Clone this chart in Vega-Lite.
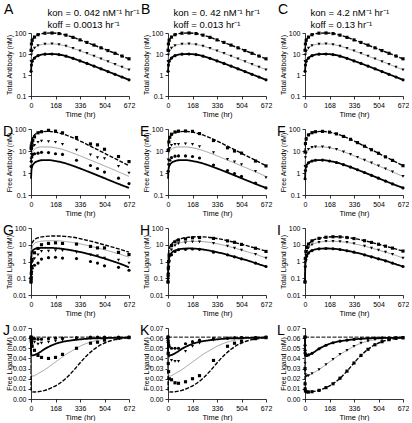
{
"$schema":"https://vega.github.io/schema/vega-lite/v6.json",
"padding":{"left":2,"top":3,"right":0,"bottom":0},
"background":"#ffffff",
"datasets":{
"totAb":[
{"s":"h","t":0.5,"v":15},{"s":"h","t":3,"v":30},{"s":"h","t":8,"v":45},{"s":"h","t":24,"v":64},{"s":"h","t":48,"v":83},{"s":"h","t":96,"v":98},{"s":"h","t":144,"v":100},{"s":"h","t":192,"v":94},{"s":"h","t":240,"v":79},{"s":"h","t":288,"v":62},{"s":"h","t":336,"v":47},{"s":"h","t":384,"v":35.5},{"s":"h","t":432,"v":26.5},{"s":"h","t":480,"v":19.7},{"s":"h","t":528,"v":14.6},{"s":"h","t":576,"v":10.8},{"s":"h","t":624,"v":8},{"s":"h","t":672,"v":5.9},
{"s":"m","t":0.5,"v":4.5},{"s":"m","t":3,"v":9},{"s":"m","t":8,"v":13.5},{"s":"m","t":24,"v":19.2},{"s":"m","t":48,"v":24.9},{"s":"m","t":96,"v":29.4},{"s":"m","t":144,"v":30},{"s":"m","t":192,"v":28.2},{"s":"m","t":240,"v":23.7},{"s":"m","t":288,"v":18.6},{"s":"m","t":336,"v":14.1},{"s":"m","t":384,"v":10.65},{"s":"m","t":432,"v":7.95},{"s":"m","t":480,"v":5.91},{"s":"m","t":528,"v":4.38},{"s":"m","t":576,"v":3.24},{"s":"m","t":624,"v":2.4},{"s":"m","t":672,"v":1.77},
{"s":"l","t":0.5,"v":1.5},{"s":"l","t":3,"v":3},{"s":"l","t":8,"v":4.5},{"s":"l","t":24,"v":6.4},{"s":"l","t":48,"v":8.3},{"s":"l","t":96,"v":9.8},{"s":"l","t":144,"v":10},{"s":"l","t":192,"v":9.4},{"s":"l","t":240,"v":7.9},{"s":"l","t":288,"v":6.2},{"s":"l","t":336,"v":4.7},{"s":"l","t":384,"v":3.55},{"s":"l","t":432,"v":2.65},{"s":"l","t":480,"v":1.97},{"s":"l","t":528,"v":1.46},{"s":"l","t":576,"v":1.08},{"s":"l","t":624,"v":0.8},{"s":"l","t":672,"v":0.59}
],
"freeAbFit":[
{"s":"h","t":0.5,"v":9},{"s":"h","t":3,"v":22},{"s":"h","t":8,"v":35},{"s":"h","t":24,"v":54},{"s":"h","t":48,"v":68},{"s":"h","t":72,"v":75},{"s":"h","t":120,"v":78},{"s":"h","t":168,"v":72},{"s":"h","t":216,"v":60},{"s":"h","t":264,"v":46},{"s":"h","t":312,"v":34},{"s":"h","t":360,"v":24},{"s":"h","t":408,"v":16.5},{"s":"h","t":456,"v":11.4},{"s":"h","t":504,"v":7.9},{"s":"h","t":552,"v":5.4},{"s":"h","t":600,"v":3.75},{"s":"h","t":672,"v":2.15},
{"s":"m","t":0.5,"v":2},{"s":"m","t":3,"v":5},{"s":"m","t":8,"v":8},{"s":"m","t":24,"v":12},{"s":"m","t":48,"v":14.5},{"s":"m","t":72,"v":15.3},{"s":"m","t":120,"v":15.3},{"s":"m","t":168,"v":14},{"s":"m","t":216,"v":11.8},{"s":"m","t":264,"v":9.2},{"s":"m","t":312,"v":7},{"s":"m","t":360,"v":5.2},{"s":"m","t":408,"v":3.85},{"s":"m","t":456,"v":2.85},{"s":"m","t":504,"v":2.1},{"s":"m","t":552,"v":1.55},{"s":"m","t":600,"v":1.13},{"s":"m","t":672,"v":0.7},
{"s":"l","t":0.5,"v":0.55},{"s":"l","t":3,"v":1.3},{"s":"l","t":8,"v":2},{"s":"l","t":24,"v":2.9},{"s":"l","t":48,"v":3.5},{"s":"l","t":72,"v":3.8},{"s":"l","t":120,"v":3.85},{"s":"l","t":168,"v":3.5},{"s":"l","t":216,"v":3},{"s":"l","t":264,"v":2.4},{"s":"l","t":312,"v":1.85},{"s":"l","t":360,"v":1.4},{"s":"l","t":408,"v":1.05},{"s":"l","t":456,"v":0.78},{"s":"l","t":504,"v":0.58},{"s":"l","t":552,"v":0.43},{"s":"l","t":600,"v":0.32},{"s":"l","t":672,"v":0.21}
],
"freeAbD":[
{"s":"h","t":1,"v":13},{"s":"h","t":2,"v":17},{"s":"h","t":6,"v":23},{"s":"h","t":12,"v":30},{"s":"h","t":24,"v":44},{"s":"h","t":48,"v":67},{"s":"h","t":72,"v":75},{"s":"h","t":120,"v":87},{"s":"h","t":168,"v":80},{"s":"h","t":216,"v":67},{"s":"h","t":312,"v":41},{"s":"h","t":408,"v":21},{"s":"h","t":456,"v":19},{"s":"h","t":504,"v":12},{"s":"h","t":600,"v":5.6},{"s":"h","t":672,"v":3.3},
{"s":"m","t":1,"v":4.3},{"s":"m","t":2,"v":7},{"s":"m","t":6,"v":12},{"s":"m","t":12,"v":16},{"s":"m","t":24,"v":18},{"s":"m","t":48,"v":25},{"s":"m","t":72,"v":28},{"s":"m","t":120,"v":27},{"s":"m","t":168,"v":25},{"s":"m","t":216,"v":20},{"s":"m","t":312,"v":11},{"s":"m","t":408,"v":6.7},{"s":"m","t":456,"v":5},{"s":"m","t":504,"v":4.5},{"s":"m","t":600,"v":2},{"s":"m","t":672,"v":1},
{"s":"l","t":1,"v":2},{"s":"l","t":2,"v":3.4},{"s":"l","t":6,"v":5.4},{"s":"l","t":12,"v":7},{"s":"l","t":24,"v":7.5},{"s":"l","t":48,"v":8},{"s":"l","t":72,"v":8.7},{"s":"l","t":120,"v":8.5},{"s":"l","t":168,"v":7.5},{"s":"l","t":216,"v":7},{"s":"l","t":312,"v":3.8},{"s":"l","t":408,"v":2.2},{"s":"l","t":456,"v":1.6},{"s":"l","t":504,"v":1.1},{"s":"l","t":600,"v":0.58},{"s":"l","t":672,"v":0.33}
],
"freeAbE":[
{"s":"h","t":1,"v":10.7},{"s":"h","t":6,"v":26},{"s":"h","t":12,"v":42},{"s":"h","t":24,"v":58},{"s":"h","t":48,"v":73},{"s":"h","t":72,"v":80},{"s":"h","t":120,"v":81},{"s":"h","t":168,"v":78},{"s":"h","t":216,"v":62},{"s":"h","t":312,"v":30},{"s":"h","t":408,"v":14},{"s":"h","t":456,"v":10},{"s":"h","t":504,"v":8},{"s":"h","t":600,"v":3.5},{"s":"h","t":672,"v":2.1},
{"s":"m","t":1,"v":4},{"s":"m","t":6,"v":11},{"s":"m","t":12,"v":13},{"s":"m","t":24,"v":18},{"s":"m","t":48,"v":20},{"s":"m","t":72,"v":20},{"s":"m","t":120,"v":21},{"s":"m","t":168,"v":20},{"s":"m","t":216,"v":16},{"s":"m","t":312,"v":8.5},{"s":"m","t":408,"v":4.2},{"s":"m","t":456,"v":3.2},{"s":"m","t":504,"v":2.4},{"s":"m","t":600,"v":1.2},{"s":"m","t":672,"v":0.62},
{"s":"l","t":1,"v":1.2},{"s":"l","t":6,"v":2.5},{"s":"l","t":12,"v":3.8},{"s":"l","t":24,"v":5},{"s":"l","t":48,"v":5.8},{"s":"l","t":72,"v":6},{"s":"l","t":120,"v":6},{"s":"l","t":168,"v":5.6},{"s":"l","t":216,"v":4.8},{"s":"l","t":312,"v":2.3},{"s":"l","t":408,"v":1.3},{"s":"l","t":456,"v":0.95},{"s":"l","t":504,"v":0.7},{"s":"l","t":600,"v":0.35},{"s":"l","t":672,"v":0.21}
],
"totLigFitG":[
{"s":"h","t":0,"v":0.06},{"s":"h","t":1,"v":2},{"s":"h","t":3,"v":6},{"s":"h","t":6,"v":10},{"s":"h","t":12,"v":15},{"s":"h","t":24,"v":20},{"s":"h","t":48,"v":26},{"s":"h","t":96,"v":31},{"s":"h","t":144,"v":33},{"s":"h","t":192,"v":33},{"s":"h","t":240,"v":31},{"s":"h","t":288,"v":28},{"s":"h","t":336,"v":23},{"s":"h","t":408,"v":16.5},{"s":"h","t":456,"v":12.8},{"s":"h","t":504,"v":9.8},{"s":"h","t":552,"v":7.5},{"s":"h","t":600,"v":5.7},{"s":"h","t":672,"v":3.6},
{"s":"m","t":0,"v":0.06},{"s":"m","t":1,"v":1.2},{"s":"m","t":3,"v":3.5},{"s":"m","t":6,"v":6},{"s":"m","t":12,"v":9},{"s":"m","t":24,"v":12},{"s":"m","t":48,"v":15},{"s":"m","t":96,"v":17},{"s":"m","t":144,"v":17.5},{"s":"m","t":192,"v":17},{"s":"m","t":240,"v":15.5},{"s":"m","t":288,"v":13.5},{"s":"m","t":336,"v":11.3},{"s":"m","t":408,"v":8.2},{"s":"m","t":456,"v":6.4},{"s":"m","t":504,"v":5},{"s":"m","t":552,"v":3.8},{"s":"m","t":600,"v":2.9},{"s":"m","t":672,"v":1.8},
{"s":"l","t":0,"v":0.06},{"s":"l","t":1,"v":0.8},{"s":"l","t":3,"v":2},{"s":"l","t":6,"v":3.3},{"s":"l","t":12,"v":4.5},{"s":"l","t":24,"v":5.5},{"s":"l","t":48,"v":6.2},{"s":"l","t":96,"v":6.6},{"s":"l","t":144,"v":6.5},{"s":"l","t":192,"v":6},{"s":"l","t":240,"v":5.3},{"s":"l","t":288,"v":4.5},{"s":"l","t":336,"v":3.7},{"s":"l","t":408,"v":2.6},{"s":"l","t":456,"v":2},{"s":"l","t":504,"v":1.5},{"s":"l","t":552,"v":1.1},{"s":"l","t":600,"v":0.8},{"s":"l","t":672,"v":0.45}
],
"totLigG":[
{"s":"h","t":0,"v":0.06},{"s":"h","t":1,"v":0.1},{"s":"h","t":2,"v":0.2},{"s":"h","t":4,"v":0.5},{"s":"h","t":8,"v":1.3},{"s":"h","t":24,"v":3.3},{"s":"h","t":48,"v":6},{"s":"h","t":72,"v":10},{"s":"h","t":120,"v":12},{"s":"h","t":168,"v":13},{"s":"h","t":216,"v":12},{"s":"h","t":312,"v":11},{"s":"h","t":408,"v":8},{"s":"h","t":456,"v":6.5},{"s":"h","t":504,"v":6.5},{"s":"h","t":600,"v":3.5},{"s":"h","t":672,"v":2.6},
{"s":"m","t":0,"v":0.06},{"s":"m","t":1,"v":0.1},{"s":"m","t":2,"v":0.15},{"s":"m","t":4,"v":0.4},{"s":"m","t":8,"v":0.9},{"s":"m","t":24,"v":1.5},{"s":"m","t":48,"v":2.5},{"s":"m","t":72,"v":4},{"s":"m","t":120,"v":4.2},{"s":"m","t":168,"v":4.5},{"s":"m","t":216,"v":4.5},{"s":"m","t":312,"v":3.5},{"s":"m","t":408,"v":2.5},{"s":"m","t":456,"v":2.2},{"s":"m","t":504,"v":1.6},{"s":"m","t":600,"v":1.2},{"s":"m","t":672,"v":0.8},
{"s":"l","t":0,"v":0.06},{"s":"l","t":1,"v":0.08},{"s":"l","t":2,"v":0.12},{"s":"l","t":4,"v":0.25},{"s":"l","t":8,"v":0.4},{"s":"l","t":24,"v":0.6},{"s":"l","t":48,"v":0.8},{"s":"l","t":72,"v":1.4},{"s":"l","t":120,"v":1.7},{"s":"l","t":168,"v":1.8},{"s":"l","t":216,"v":1.6},{"s":"l","t":312,"v":1.5},{"s":"l","t":408,"v":1},{"s":"l","t":456,"v":0.8},{"s":"l","t":504,"v":0.55},{"s":"l","t":600,"v":0.45},{"s":"l","t":672,"v":0.3}
],
"totLigFit":[
{"s":"h","t":0,"v":0.06},{"s":"h","t":2,"v":1.5},{"s":"h","t":6,"v":4},{"s":"h","t":12,"v":7},{"s":"h","t":24,"v":11},{"s":"h","t":48,"v":17},{"s":"h","t":96,"v":24},{"s":"h","t":144,"v":28},{"s":"h","t":192,"v":30},{"s":"h","t":240,"v":29.5},{"s":"h","t":288,"v":27},{"s":"h","t":336,"v":23.5},{"s":"h","t":408,"v":17.5},{"s":"h","t":456,"v":13.8},{"s":"h","t":504,"v":10.7},{"s":"h","t":552,"v":8.2},{"s":"h","t":600,"v":6.3},{"s":"h","t":672,"v":4.2},
{"s":"m","t":0,"v":0.06},{"s":"m","t":2,"v":0.9},{"s":"m","t":6,"v":2.4},{"s":"m","t":12,"v":4},{"s":"m","t":24,"v":6.5},{"s":"m","t":48,"v":10},{"s":"m","t":96,"v":14},{"s":"m","t":144,"v":15.8},{"s":"m","t":192,"v":16},{"s":"m","t":240,"v":15.3},{"s":"m","t":288,"v":13.8},{"s":"m","t":336,"v":11.5},{"s":"m","t":408,"v":8.2},{"s":"m","t":456,"v":6.3},{"s":"m","t":504,"v":4.8},{"s":"m","t":552,"v":3.6},{"s":"m","t":600,"v":2.7},{"s":"m","t":672,"v":1.6},
{"s":"l","t":0,"v":0.06},{"s":"l","t":2,"v":0.5},{"s":"l","t":6,"v":1.3},{"s":"l","t":12,"v":2.1},{"s":"l","t":24,"v":3.2},{"s":"l","t":48,"v":4.5},{"s":"l","t":96,"v":5.7},{"s":"l","t":144,"v":6},{"s":"l","t":192,"v":5.8},{"s":"l","t":240,"v":5.2},{"s":"l","t":288,"v":4.4},{"s":"l","t":336,"v":3.6},{"s":"l","t":408,"v":2.5},{"s":"l","t":456,"v":1.9},{"s":"l","t":504,"v":1.45},{"s":"l","t":552,"v":1.1},{"s":"l","t":600,"v":0.8},{"s":"l","t":672,"v":0.5}
],
"totLigH":[
{"s":"h","t":0,"v":0.06},{"s":"h","t":1,"v":0.15},{"s":"h","t":2,"v":0.4},{"s":"h","t":4,"v":1},{"s":"h","t":8,"v":2.5},{"s":"h","t":24,"v":9},{"s":"h","t":48,"v":15},{"s":"h","t":72,"v":19},{"s":"h","t":120,"v":22},{"s":"h","t":168,"v":26},{"s":"h","t":216,"v":27},{"s":"h","t":312,"v":24},{"s":"h","t":408,"v":17},{"s":"h","t":456,"v":14},{"s":"h","t":504,"v":10.5},{"s":"h","t":600,"v":6.2},{"s":"h","t":672,"v":4},
{"s":"m","t":0,"v":0.06},{"s":"m","t":1,"v":0.12},{"s":"m","t":2,"v":0.3},{"s":"m","t":4,"v":0.8},{"s":"m","t":8,"v":1.8},{"s":"m","t":24,"v":5},{"s":"m","t":48,"v":9},{"s":"m","t":72,"v":11.5},{"s":"m","t":120,"v":13},{"s":"m","t":168,"v":15},{"s":"m","t":216,"v":15},{"s":"m","t":312,"v":12},{"s":"m","t":408,"v":8.3},{"s":"m","t":456,"v":6.3},{"s":"m","t":504,"v":4.8},{"s":"m","t":600,"v":2.7},{"s":"m","t":672,"v":1.6},
{"s":"l","t":0,"v":0.06},{"s":"l","t":1,"v":0.1},{"s":"l","t":2,"v":0.2},{"s":"l","t":4,"v":0.5},{"s":"l","t":8,"v":1.1},{"s":"l","t":24,"v":2.5},{"s":"l","t":48,"v":4},{"s":"l","t":72,"v":5},{"s":"l","t":120,"v":5.3},{"s":"l","t":168,"v":5.6},{"s":"l","t":216,"v":5.3},{"s":"l","t":312,"v":3.6},{"s":"l","t":408,"v":2.5},{"s":"l","t":456,"v":1.9},{"s":"l","t":504,"v":1.45},{"s":"l","t":600,"v":0.8},{"s":"l","t":672,"v":0.5}
],
"freeLigFit":[
{"s":"b","t":0,"v":0.061},{"s":"b","t":672,"v":0.061},
{"s":"h","t":0,"v":0.061},{"s":"h","t":0.25,"v":0.03},{"s":"h","t":0.5,"v":0.015},{"s":"h","t":1,"v":0.01},{"s":"h","t":3,"v":0.0078},{"s":"h","t":12,"v":0.007},{"s":"h","t":24,"v":0.0069},{"s":"h","t":48,"v":0.0072},{"s":"h","t":96,"v":0.0085},{"s":"h","t":144,"v":0.0112},{"s":"h","t":192,"v":0.015},{"s":"h","t":240,"v":0.0205},{"s":"h","t":288,"v":0.0275},{"s":"h","t":336,"v":0.0355},{"s":"h","t":384,"v":0.043},{"s":"h","t":432,"v":0.049},{"s":"h","t":480,"v":0.0535},{"s":"h","t":528,"v":0.0565},{"s":"h","t":576,"v":0.0585},{"s":"h","t":624,"v":0.0597},{"s":"h","t":672,"v":0.0603},
{"s":"m","t":0,"v":0.061},{"s":"m","t":0.25,"v":0.045},{"s":"m","t":0.5,"v":0.035},{"s":"m","t":1,"v":0.028},{"s":"m","t":3,"v":0.024},{"s":"m","t":12,"v":0.0225},{"s":"m","t":24,"v":0.023},{"s":"m","t":48,"v":0.025},{"s":"m","t":96,"v":0.029},{"s":"m","t":144,"v":0.034},{"s":"m","t":192,"v":0.039},{"s":"m","t":240,"v":0.044},{"s":"m","t":288,"v":0.048},{"s":"m","t":336,"v":0.052},{"s":"m","t":384,"v":0.055},{"s":"m","t":432,"v":0.057},{"s":"m","t":480,"v":0.0585},{"s":"m","t":528,"v":0.0594},{"s":"m","t":576,"v":0.0599},{"s":"m","t":624,"v":0.0602},{"s":"m","t":672,"v":0.0604},
{"s":"l","t":0,"v":0.061},{"s":"l","t":0.25,"v":0.053},{"s":"l","t":0.5,"v":0.048},{"s":"l","t":1,"v":0.045},{"s":"l","t":3,"v":0.0435},{"s":"l","t":12,"v":0.043},{"s":"l","t":24,"v":0.0435},{"s":"l","t":48,"v":0.045},{"s":"l","t":96,"v":0.0495},{"s":"l","t":144,"v":0.053},{"s":"l","t":192,"v":0.0555},{"s":"l","t":240,"v":0.057},{"s":"l","t":288,"v":0.058},{"s":"l","t":336,"v":0.0588},{"s":"l","t":384,"v":0.0594},{"s":"l","t":432,"v":0.0598},{"s":"l","t":480,"v":0.06},{"s":"l","t":528,"v":0.0602},{"s":"l","t":576,"v":0.0603},{"s":"l","t":624,"v":0.0604},{"s":"l","t":672,"v":0.0605}
],
"freeLigJ":[
{"s":"h","t":0,"v":0.061},{"s":"h","t":1,"v":0.059},{"s":"h","t":2,"v":0.057},{"s":"h","t":4,"v":0.055},{"s":"h","t":8,"v":0.052},{"s":"h","t":24,"v":0.048},{"s":"h","t":48,"v":0.043},{"s":"h","t":72,"v":0.041},{"s":"h","t":120,"v":0.04},{"s":"h","t":168,"v":0.041},{"s":"h","t":216,"v":0.044},{"s":"h","t":312,"v":0.05},{"s":"h","t":408,"v":0.055},{"s":"h","t":456,"v":0.056},{"s":"h","t":504,"v":0.058},{"s":"h","t":600,"v":0.06},{"s":"h","t":672,"v":0.0605},
{"s":"m","t":0,"v":0.061},{"s":"m","t":1,"v":0.06},{"s":"m","t":2,"v":0.059},{"s":"m","t":4,"v":0.058},{"s":"m","t":8,"v":0.057},{"s":"m","t":24,"v":0.056},{"s":"m","t":48,"v":0.054},{"s":"m","t":72,"v":0.055},{"s":"m","t":120,"v":0.056},{"s":"m","t":168,"v":0.057},{"s":"m","t":216,"v":0.058},{"s":"m","t":312,"v":0.059},{"s":"m","t":408,"v":0.06},{"s":"m","t":456,"v":0.06},{"s":"m","t":504,"v":0.0605},{"s":"m","t":600,"v":0.0605},{"s":"m","t":672,"v":0.061},
{"s":"l","t":0,"v":0.061},{"s":"l","t":1,"v":0.0605},{"s":"l","t":2,"v":0.06},{"s":"l","t":4,"v":0.06},{"s":"l","t":8,"v":0.0598},{"s":"l","t":24,"v":0.0595},{"s":"l","t":48,"v":0.059},{"s":"l","t":72,"v":0.059},{"s":"l","t":120,"v":0.0595},{"s":"l","t":168,"v":0.06},{"s":"l","t":216,"v":0.06},{"s":"l","t":312,"v":0.0605},{"s":"l","t":408,"v":0.061},{"s":"l","t":456,"v":0.061},{"s":"l","t":504,"v":0.061},{"s":"l","t":600,"v":0.061},{"s":"l","t":672,"v":0.061}
],
"freeLigK":[
{"s":"h","t":0,"v":0.061},{"s":"h","t":1,"v":0.045},{"s":"h","t":2,"v":0.035},{"s":"h","t":4,"v":0.027},{"s":"h","t":8,"v":0.02},{"s":"h","t":24,"v":0.019},{"s":"h","t":48,"v":0.016},{"s":"h","t":72,"v":0.0155},{"s":"h","t":120,"v":0.017},{"s":"h","t":168,"v":0.02},{"s":"h","t":216,"v":0.023},{"s":"h","t":312,"v":0.038},{"s":"h","t":408,"v":0.052},{"s":"h","t":456,"v":0.055},{"s":"h","t":504,"v":0.057},{"s":"h","t":600,"v":0.0595},{"s":"h","t":672,"v":0.0605},
{"s":"m","t":0,"v":0.061},{"s":"m","t":1,"v":0.055},{"s":"m","t":2,"v":0.05},{"s":"m","t":4,"v":0.045},{"s":"m","t":8,"v":0.042},{"s":"m","t":24,"v":0.038},{"s":"m","t":48,"v":0.037},{"s":"m","t":72,"v":0.037},{"s":"m","t":120,"v":0.047},{"s":"m","t":168,"v":0.052},{"s":"m","t":216,"v":0.055},{"s":"m","t":312,"v":0.058},{"s":"m","t":408,"v":0.0595},{"s":"m","t":456,"v":0.06},{"s":"m","t":504,"v":0.0603},{"s":"m","t":600,"v":0.0605},{"s":"m","t":672,"v":0.061},
{"s":"l","t":0,"v":0.061},{"s":"l","t":1,"v":0.058},{"s":"l","t":2,"v":0.056},{"s":"l","t":4,"v":0.054},{"s":"l","t":8,"v":0.052},{"s":"l","t":24,"v":0.05},{"s":"l","t":48,"v":0.05},{"s":"l","t":72,"v":0.05},{"s":"l","t":120,"v":0.0545},{"s":"l","t":168,"v":0.0565},{"s":"l","t":216,"v":0.058},{"s":"l","t":312,"v":0.0595},{"s":"l","t":408,"v":0.06},{"s":"l","t":456,"v":0.0603},{"s":"l","t":504,"v":0.0605},{"s":"l","t":600,"v":0.0605},{"s":"l","t":672,"v":0.061}
]
},
"config":{
"font":"Liberation Sans",
"view":{"stroke":null},
"legend":{"disable":true},
"axis":{"grid":false,"domainColor":"#000","tickColor":"#000","tickSize":3,"domainWidth":0.8,"tickWidth":0.8,"labelFontSize":7,"titleFontSize":7.5,"titleFontWeight":"normal","labelColor":"#000","titleColor":"#000","labelPadding":2,"titlePadding":2,"labelOverlap":false},
"axisX":{"labelFlush":false},
"axisY":{"minExtent":17,"maxExtent":17,"titlePadding":2,"titleFontSize":7},
"title":{"anchor":"start","frame":"bounds","fontSize":14,"fontWeight":"normal","color":"#000","offset":0},
"line":{"interpolate":"monotone"},
"point":{"filled":true,"color":"#000","opacity":1,"size":10}
},
"concat":[
{"title":{"text":"A","dy":14,"dx":-1},"width":98,"height":63,"resolve":{"axis":{"x":"independent"}},
"encoding":{"x":{"field":"t","type":"quantitative","scale":{"domain":[0,672],"nice":false,"zero":false},"axis":{"values":[0,168,336,504,672],"title":"Time (hr)"}},"y":{"field":"v","type":"quantitative","scale":{"type":"log","domain":[0.1,100],"nice":false},"axis":{"values":[0.1,1,10,100],"format":"~g","title":"Total Antibody (nM)"}}},
"layer":[
{"data":{"name":"totAb"},"mark":{"type":"line"},"encoding":{"detail":{"field":"s"},"color":{"condition":{"test":"datum.s==='m'","value":"#8a8a8a"},"value":"#000"},"strokeDash":{"condition":{"test":"datum.s==='h'||datum.s==='b'","value":[4,1.5]},"value":[1,0]},"strokeWidth":{"condition":[{"test":"datum.s==='m'","value":0.8},{"test":"datum.s==='l'","value":1.8},{"test":"datum.s==='b'","value":1}],"value":1.4}}},
{"data":{"name":"totAb"},"mark":{"type":"point"},"encoding":{"x":{"field":"t","type":"quantitative","scale":{"domain":[0,672],"nice":false,"zero":false},"axis":{"orient":"top","labels":false,"ticks":false,"domain":false,"title":["kon = 0. 042 nM\u207b\u00b9 hr\u207b\u00b9","koff = 0.0013 hr\u207b\u00b9"],"titleFontSize":9.5,"titleAlign":"left","titleBaseline":"top","titleX":16,"titleY":-26,"titleLineHeight":12}},"shape":{"field":"s","type":"nominal","scale":{"domain":["h","m","l"],"range":["square","triangle-down","circle"]}}}}
]},
{"title":{"text":"B","dy":14,"dx":-1},"width":98,"height":63,"resolve":{"axis":{"x":"independent"}},
"encoding":{"x":{"field":"t","type":"quantitative","scale":{"domain":[0,672],"nice":false,"zero":false},"axis":{"values":[0,168,336,504,672],"title":"Time (hr)"}},"y":{"field":"v","type":"quantitative","scale":{"type":"log","domain":[0.1,100],"nice":false},"axis":{"values":[0.1,1,10,100],"format":"~g","title":"Total Antibody (nM)"}}},
"layer":[
{"data":{"name":"totAb"},"mark":{"type":"line"},"encoding":{"detail":{"field":"s"},"color":{"condition":{"test":"datum.s==='m'","value":"#8a8a8a"},"value":"#000"},"strokeDash":{"condition":{"test":"datum.s==='h'||datum.s==='b'","value":[4,1.5]},"value":[1,0]},"strokeWidth":{"condition":[{"test":"datum.s==='m'","value":0.8},{"test":"datum.s==='l'","value":1.8},{"test":"datum.s==='b'","value":1}],"value":1.4}}},
{"data":{"name":"totAb"},"mark":{"type":"point"},"encoding":{"x":{"field":"t","type":"quantitative","scale":{"domain":[0,672],"nice":false,"zero":false},"axis":{"orient":"top","labels":false,"ticks":false,"domain":false,"title":["kon = 0. 42 nM\u207b\u00b9 hr\u207b\u00b9","koff = 0.013 hr\u207b\u00b9"],"titleFontSize":9.5,"titleAlign":"left","titleBaseline":"top","titleX":5,"titleY":-26,"titleLineHeight":12}},"shape":{"field":"s","type":"nominal","scale":{"domain":["h","m","l"],"range":["square","triangle-down","circle"]}}}}
]},
{"title":{"text":"C","dy":14,"dx":-1},"width":98,"height":63,"resolve":{"axis":{"x":"independent"}},
"encoding":{"x":{"field":"t","type":"quantitative","scale":{"domain":[0,672],"nice":false,"zero":false},"axis":{"values":[0,168,336,504,672],"title":"Time (hr)"}},"y":{"field":"v","type":"quantitative","scale":{"type":"log","domain":[0.1,100],"nice":false},"axis":{"values":[0.1,1,10,100],"format":"~g","title":"Total Antibody (nM)"}}},
"layer":[
{"data":{"name":"totAb"},"mark":{"type":"line"},"encoding":{"detail":{"field":"s"},"color":{"condition":{"test":"datum.s==='m'","value":"#8a8a8a"},"value":"#000"},"strokeDash":{"condition":{"test":"datum.s==='h'||datum.s==='b'","value":[4,1.5]},"value":[1,0]},"strokeWidth":{"condition":[{"test":"datum.s==='m'","value":0.8},{"test":"datum.s==='l'","value":1.8},{"test":"datum.s==='b'","value":1}],"value":1.4}}},
{"data":{"name":"totAb"},"mark":{"type":"point"},"encoding":{"x":{"field":"t","type":"quantitative","scale":{"domain":[0,672],"nice":false,"zero":false},"axis":{"orient":"top","labels":false,"ticks":false,"domain":false,"title":["kon = 4.2 nM\u207b\u00b9 hr\u207b\u00b9","koff = 0.13 hr\u207b\u00b9"],"titleFontSize":9.5,"titleAlign":"left","titleBaseline":"top","titleX":5,"titleY":-26,"titleLineHeight":12}},"shape":{"field":"s","type":"nominal","scale":{"domain":["h","m","l"],"range":["square","triangle-down","circle"]}}}}
]},
{"title":{"text":"D","dy":18,"dx":-2},"width":98,"height":66,
"encoding":{"x":{"field":"t","type":"quantitative","scale":{"domain":[0,672],"nice":false,"zero":false},"axis":{"values":[0,168,336,504,672],"title":"Time (hr)"}},"y":{"field":"v","type":"quantitative","scale":{"type":"log","domain":[0.1,100],"nice":false},"axis":{"values":[0.1,1,10,100],"format":"~g","title":"Free Antibody (nM)"}}},
"layer":[
{"data":{"name":"freeAbFit"},"mark":{"type":"line"},"encoding":{"detail":{"field":"s"},"color":{"condition":{"test":"datum.s==='m'","value":"#8a8a8a"},"value":"#000"},"strokeDash":{"condition":{"test":"datum.s==='h'||datum.s==='b'","value":[4,1.5]},"value":[1,0]},"strokeWidth":{"condition":[{"test":"datum.s==='m'","value":0.8},{"test":"datum.s==='l'","value":1.8},{"test":"datum.s==='b'","value":1}],"value":1.4}}},
{"data":{"name":"freeAbD"},"mark":{"type":"point"},"encoding":{"shape":{"field":"s","type":"nominal","scale":{"domain":["h","m","l"],"range":["square","triangle-down","circle"]}}}}
]},
{"title":{"text":"E","dy":18,"dx":-2},"width":98,"height":66,
"encoding":{"x":{"field":"t","type":"quantitative","scale":{"domain":[0,672],"nice":false,"zero":false},"axis":{"values":[0,168,336,504,672],"title":"Time (hr)"}},"y":{"field":"v","type":"quantitative","scale":{"type":"log","domain":[0.1,100],"nice":false},"axis":{"values":[0.1,1,10,100],"format":"~g","title":"Free Antibody (nM)"}}},
"layer":[
{"data":{"name":"freeAbFit"},"mark":{"type":"line"},"encoding":{"detail":{"field":"s"},"color":{"condition":{"test":"datum.s==='m'","value":"#8a8a8a"},"value":"#000"},"strokeDash":{"condition":{"test":"datum.s==='h'||datum.s==='b'","value":[4,1.5]},"value":[1,0]},"strokeWidth":{"condition":[{"test":"datum.s==='m'","value":0.8},{"test":"datum.s==='l'","value":1.8},{"test":"datum.s==='b'","value":1}],"value":1.4}}},
{"data":{"name":"freeAbE"},"mark":{"type":"point"},"encoding":{"shape":{"field":"s","type":"nominal","scale":{"domain":["h","m","l"],"range":["square","triangle-down","circle"]}}}}
]},
{"title":{"text":"F","dy":18,"dx":-2},"width":98,"height":66,
"encoding":{"x":{"field":"t","type":"quantitative","scale":{"domain":[0,672],"nice":false,"zero":false},"axis":{"values":[0,168,336,504,672],"title":"Time (hr)"}},"y":{"field":"v","type":"quantitative","scale":{"type":"log","domain":[0.1,100],"nice":false},"axis":{"values":[0.1,1,10,100],"format":"~g","title":"Free Antibody (nM)"}}},
"layer":[
{"data":{"name":"freeAbFit"},"mark":{"type":"line"},"encoding":{"detail":{"field":"s"},"color":{"condition":{"test":"datum.s==='m'","value":"#8a8a8a"},"value":"#000"},"strokeDash":{"condition":{"test":"datum.s==='h'||datum.s==='b'","value":[4,1.5]},"value":[1,0]},"strokeWidth":{"condition":[{"test":"datum.s==='m'","value":0.8},{"test":"datum.s==='l'","value":1.8},{"test":"datum.s==='b'","value":1}],"value":1.4}}},
{"data":{"name":"freeAbFit"},"mark":{"type":"point"},"encoding":{"shape":{"field":"s","type":"nominal","scale":{"domain":["h","m","l"],"range":["square","triangle-down","circle"]}}}}
]},
{"title":{"text":"G","dy":18,"dx":-2},"width":98,"height":67,
"encoding":{"x":{"field":"t","type":"quantitative","scale":{"domain":[0,672],"nice":false,"zero":false},"axis":{"values":[0,168,336,504,672],"title":"Time (hr)"}},"y":{"field":"v","type":"quantitative","scale":{"type":"log","domain":[0.01,100],"nice":false},"axis":{"values":[0.01,0.1,1,10,100],"format":"~g","title":"Total Ligand (nM)"}}},
"layer":[
{"data":{"name":"totLigFitG"},"mark":{"type":"line"},"encoding":{"detail":{"field":"s"},"color":{"condition":{"test":"datum.s==='m'","value":"#8a8a8a"},"value":"#000"},"strokeDash":{"condition":{"test":"datum.s==='h'||datum.s==='b'","value":[4,1.5]},"value":[1,0]},"strokeWidth":{"condition":[{"test":"datum.s==='m'","value":0.8},{"test":"datum.s==='l'","value":1.8},{"test":"datum.s==='b'","value":1}],"value":1.4}}},
{"data":{"name":"totLigG"},"mark":{"type":"point"},"encoding":{"shape":{"field":"s","type":"nominal","scale":{"domain":["h","m","l"],"range":["square","triangle-down","circle"]}}}}
]},
{"title":{"text":"H","dy":18,"dx":-2},"width":98,"height":67,
"encoding":{"x":{"field":"t","type":"quantitative","scale":{"domain":[0,672],"nice":false,"zero":false},"axis":{"values":[0,168,336,504,672],"title":"Time (hr)"}},"y":{"field":"v","type":"quantitative","scale":{"type":"log","domain":[0.01,100],"nice":false},"axis":{"values":[0.01,0.1,1,10,100],"format":"~g","title":"Total Ligand (nM)"}}},
"layer":[
{"data":{"name":"totLigFit"},"mark":{"type":"line"},"encoding":{"detail":{"field":"s"},"color":{"condition":{"test":"datum.s==='m'","value":"#8a8a8a"},"value":"#000"},"strokeDash":{"condition":{"test":"datum.s==='h'||datum.s==='b'","value":[4,1.5]},"value":[1,0]},"strokeWidth":{"condition":[{"test":"datum.s==='m'","value":0.8},{"test":"datum.s==='l'","value":1.8},{"test":"datum.s==='b'","value":1}],"value":1.4}}},
{"data":{"name":"totLigH"},"mark":{"type":"point"},"encoding":{"shape":{"field":"s","type":"nominal","scale":{"domain":["h","m","l"],"range":["square","triangle-down","circle"]}}}}
]},
{"title":{"text":"I","dy":18,"dx":-2},"width":98,"height":67,
"encoding":{"x":{"field":"t","type":"quantitative","scale":{"domain":[0,672],"nice":false,"zero":false},"axis":{"values":[0,168,336,504,672],"title":"Time (hr)"}},"y":{"field":"v","type":"quantitative","scale":{"type":"log","domain":[0.01,100],"nice":false},"axis":{"values":[0.01,0.1,1,10,100],"format":"~g","title":"Total Ligand (nM)"}}},
"layer":[
{"data":{"name":"totLigFit"},"mark":{"type":"line"},"encoding":{"detail":{"field":"s"},"color":{"condition":{"test":"datum.s==='m'","value":"#8a8a8a"},"value":"#000"},"strokeDash":{"condition":{"test":"datum.s==='h'||datum.s==='b'","value":[4,1.5]},"value":[1,0]},"strokeWidth":{"condition":[{"test":"datum.s==='m'","value":0.8},{"test":"datum.s==='l'","value":1.8},{"test":"datum.s==='b'","value":1}],"value":1.4}}},
{"data":{"name":"totLigFit"},"mark":{"type":"point"},"encoding":{"shape":{"field":"s","type":"nominal","scale":{"domain":["h","m","l"],"range":["square","triangle-down","circle"]}}}}
]},
{"title":{"text":"J","dy":18,"dx":-2},"width":98,"height":71,
"encoding":{"x":{"field":"t","type":"quantitative","scale":{"domain":[0,672],"nice":false,"zero":false},"axis":{"values":[0,168,336,504,672],"title":"Time (hr)"}},"y":{"field":"v","type":"quantitative","scale":{"domain":[0,0.07],"nice":false},"axis":{"values":[0,0.01,0.02,0.03,0.04,0.05,0.06,0.07],"format":".2f","title":"Free Ligand (nM)"}}},
"layer":[
{"data":{"name":"freeLigFit"},"mark":{"type":"line"},"encoding":{"detail":{"field":"s"},"color":{"condition":{"test":"datum.s==='m'","value":"#8a8a8a"},"value":"#000"},"strokeDash":{"condition":{"test":"datum.s==='h'||datum.s==='b'","value":[4,1.5]},"value":[1,0]},"strokeWidth":{"condition":[{"test":"datum.s==='m'","value":0.8},{"test":"datum.s==='l'","value":1.8},{"test":"datum.s==='b'","value":1}],"value":1.4}}},
{"data":{"name":"freeLigJ"},"mark":{"type":"point"},"encoding":{"shape":{"field":"s","type":"nominal","scale":{"domain":["h","m","l"],"range":["square","triangle-down","circle"]}}}}
]},
{"title":{"text":"K","dy":18,"dx":-2},"width":98,"height":71,
"encoding":{"x":{"field":"t","type":"quantitative","scale":{"domain":[0,672],"nice":false,"zero":false},"axis":{"values":[0,168,336,504,672],"title":"Time (hr)"}},"y":{"field":"v","type":"quantitative","scale":{"domain":[0,0.07],"nice":false},"axis":{"values":[0,0.01,0.02,0.03,0.04,0.05,0.06,0.07],"format":".2f","title":"Free Ligand (nM)"}}},
"layer":[
{"data":{"name":"freeLigFit"},"mark":{"type":"line"},"encoding":{"detail":{"field":"s"},"color":{"condition":{"test":"datum.s==='m'","value":"#8a8a8a"},"value":"#000"},"strokeDash":{"condition":{"test":"datum.s==='h'||datum.s==='b'","value":[4,1.5]},"value":[1,0]},"strokeWidth":{"condition":[{"test":"datum.s==='m'","value":0.8},{"test":"datum.s==='l'","value":1.8},{"test":"datum.s==='b'","value":1}],"value":1.4}}},
{"data":{"name":"freeLigK"},"mark":{"type":"point"},"encoding":{"shape":{"field":"s","type":"nominal","scale":{"domain":["h","m","l"],"range":["square","triangle-down","circle"]}}}}
]},
{"title":{"text":"L","dy":18,"dx":-2},"width":98,"height":71,
"encoding":{"x":{"field":"t","type":"quantitative","scale":{"domain":[0,672],"nice":false,"zero":false},"axis":{"values":[0,168,336,504,672],"title":"Time (hr)"}},"y":{"field":"v","type":"quantitative","scale":{"domain":[0,0.07],"nice":false},"axis":{"values":[0,0.01,0.02,0.03,0.04,0.05,0.06,0.07],"format":".2f","title":"Free Ligand (nM)"}}},
"layer":[
{"data":{"name":"freeLigFit"},"mark":{"type":"line"},"encoding":{"detail":{"field":"s"},"color":{"condition":{"test":"datum.s==='m'","value":"#8a8a8a"},"value":"#000"},"strokeDash":{"condition":{"test":"datum.s==='h'||datum.s==='b'","value":[4,1.5]},"value":[1,0]},"strokeWidth":{"condition":[{"test":"datum.s==='m'","value":0.8},{"test":"datum.s==='l'","value":1.8},{"test":"datum.s==='b'","value":1}],"value":1.4}}},
{"data":{"name":"freeLigFit"},"transform":[{"filter":"datum.s!=='b'"}],"mark":{"type":"point"},"encoding":{"shape":{"field":"s","type":"nominal","scale":{"domain":["h","m","l"],"range":["square","triangle-down","circle"]}}}}
]}
],
"columns":3,
"bounds":"flush",
"spacing":{"row":33,"column":39},
"resolve":{"scale":{"x":"independent","y":"independent"}}
}
